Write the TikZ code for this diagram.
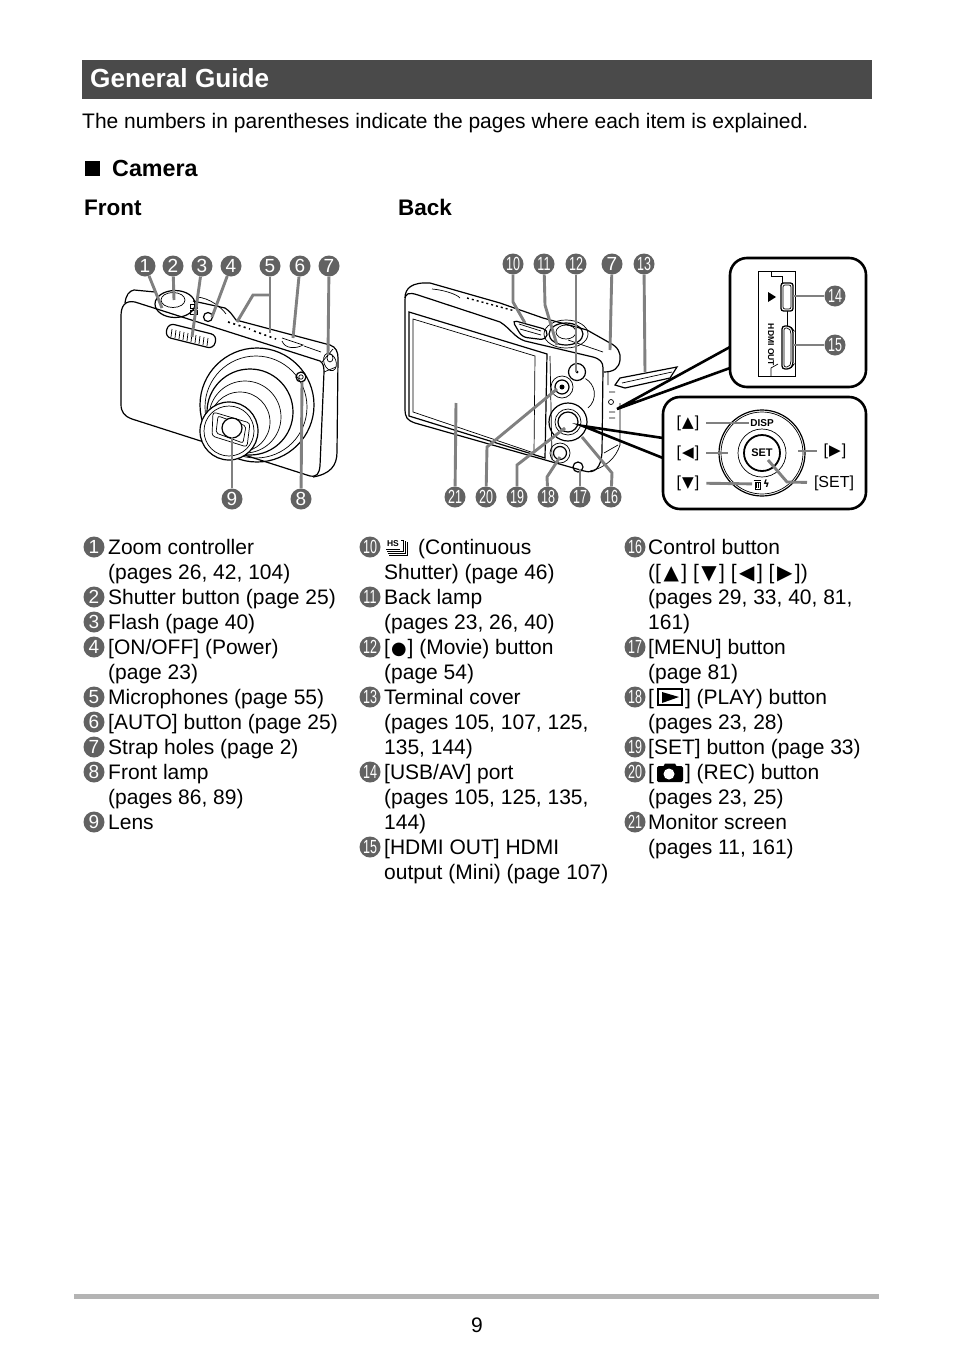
\documentclass[tikz,border=0pt]{standalone}
\usepackage{fontspec}
\setmainfont{Liberation Sans}
\newfontfamily\symfont{DejaVu Sans}
\usetikzlibrary{positioning}
\definecolor{bargray}{HTML}{4A4A4A}
\definecolor{numgray}{HTML}{626262}
\definecolor{leadgray}{HTML}{808080}
\definecolor{rulegray}{HTML}{B4B4B4}
\newcommand{\numtext}[1]{\ifnum#1>9 \scalebox{.66}[1]{#1}\else#1\fi}
\newcommand{\tri}[1]{\hspace{2.5pt}{\symfont\scalebox{.95}{#1}}\hspace{2.5pt}}
\newcommand{\keytri}[1]{\hspace{1pt}{\symfont\scalebox{.95}{#1}}\hspace{1pt}}
\tikzset{
  numbadge/.style={circle,fill=numgray,text=white,inner sep=0,minimum size=21pt,font=\fontsize{19}{19}\selectfont},
  leader/.style={leadgray,line width=2.9pt},
  itemtext/.style={anchor=north west,inner sep=0,align=left,font=\fontsize{21}{25}\selectfont},
  headtext/.style={anchor=base west,inner sep=0,font=\fontsize{22.5}{25}\selectfont\bfseries},
  cam/.style={line width=1.2pt,black},
  thin cam/.style={line width=.7pt,black},
  panel/.style={line width=2.6pt,black},
  keylabel/.style={inner sep=0,outer sep=7pt,font=\fontsize{16}{16}\selectfont},
}
\begin{document}
\begin{tikzpicture}[x=1pt,y=-1pt]
\path[fill=white,use as bounding box](0,0) rectangle (954,1357);
\fill[bargray](82,60) rectangle (872,99);
\node[headtext,text=white,font=\fontsize{26.2}{25}\selectfont\bfseries] (title) at (90,87){General Guide};
\node[itemtext] (intro) at (82,110.5){\strut The numbers in parentheses indicate the pages where each item is explained.};
\fill (85,161) rectangle (100,176);
\node[headtext,font=\fontsize{23.3}{25}\selectfont\bfseries] (camera) at (112,176){Camera};
\node[headtext] (front) at (84,215){Front};
\node[headtext] (back) at (398,215){Back};
\fill[rulegray](74,1294) rectangle (879,1298.5);
\node[itemtext] (folio) at (471,1315){\strut 9};

\foreach \n/\x/\y in {1/145/266,2/173/266,3/202/266,4/231/266,5/270/266,6/300/266,7/329/266,9/232/499,8/301/499,
  10/513/264,11/544/264,12/576/264,13/644/264,21/455/497,20/486/497,19/517/497,18/548/497,17/580/497,16/611/497}
  \node[numbadge] (n\n) at (\x,\y){\numtext{\n}};
\node[numbadge] (n7b) at (612,264){7};

\draw[cam](121,316) .. controls (121,306) and (125,300) .. (135,302) -- (320,361) .. controls (323,363) and (324,366) .. (324,372)
  -- (320,466) .. controls (319,474) and (317,477) .. (310,476) -- (132,419) .. controls (124,416) and (121,412) .. (121,404) -- cycle;
\draw[cam](125,303) .. controls (126,295) and (129,291) .. (134,290) -- (155,292) (193,301) -- (225,308) .. controls (230,311) and (233,316) .. (236,320) -- (330,345)
  .. controls (336,347) and (338,352) .. (338,358) -- (337,452) .. controls (337,466) and (330,474) .. (313,477);
\draw[thin cam](324,372) -- (336,367) (322,362) -- (333,349);
\draw[cam](175,304) ellipse[x radius=20pt,y radius=13.5pt];
\draw[thin cam,fill=white](173,300) ellipse[x radius=12pt,y radius=7.5pt];
\draw[thin cam](190,310) rectangle (197,314) (190,304) rectangle (197,308);
\draw[cam](208,317) circle[radius=4.5pt];
\draw[thin cam](197,297) .. controls (210,298) and (222,308) .. (226,314);
\draw[cam,rounded corners=6pt,rotate around={-14:(191,336)}](166,329) rectangle (216,343);
\foreach \x in {172,176,...,208}\draw[thin cam](\x,{329+(\x-172)*.25})--++(-1,8);
\draw[line width=1.6pt,dash pattern=on 2pt off 3.5pt](228,322)--(250,329) (254,331)--(276,339);
\draw[thin cam](282,341) .. controls (285,349) and (296,349) .. (303,345) -- (282,338);
\draw[thin cam](304,346)--(321,352);
\draw[thin cam,rotate around={20:(330,362)}](330,362) ellipse[x radius=6pt,y radius=9pt];
\draw[thin cam](330,358) ellipse[x radius=3pt,y radius=4pt];
\draw[cam](257,405) circle[radius=57pt];
\draw[thin cam](256,407) circle[radius=51pt];
\draw[cam](250,412) circle[radius=43pt];
\draw[thin cam](245,417) circle[radius=36pt];
\draw[thin cam](240,422) circle[radius=30pt];
\draw[cam,fill=white](229,431) circle[radius=29pt];
\draw[thin cam](229,431) circle[radius=25pt];
\draw[thin cam,rounded corners=3pt](213,412)--(250,423)--(247,447)--(212,436)--cycle;
\draw[thin cam,rounded corners=2pt](218,416)--(246,426)--(243,443)--(216,433)--cycle;
\draw[cam,fill=white](232,428) circle[radius=10pt];
\draw[cam](301,377) circle[radius=5pt];
\draw[thin cam](301,377) circle[radius=2.2pt];

\draw[cam](405,300) .. controls (405,293) and (409,292) .. (418,295) -- (500,322) .. controls (510,328) and (515,338) .. (525,341) -- (593,357)
  .. controls (600,359) and (603,362) .. (603,368) -- (602,452) .. controls (601,468) and (595,474) .. (584,471) -- (415,423)
  .. controls (407,420) and (405,418) .. (405,408) -- cycle;
\draw[cam](405,298) .. controls (405,288) and (412,282) .. (430,283) -- (500,303) -- (543,318) -- (587,330) -- (610,343) .. controls (618,347) and (621,353) .. (620,360)
  .. controls (619,368) and (614,372) .. (604,372);
\draw[thin cam](620,445) .. controls (616,458) and (605,468) .. (590,471);
\draw[thin cam](608,372)--(608,385) (620,403)--(620,445) (604,453)--(618,445);
\draw[thin cam](432,289) .. controls (445,290) and (458,295) .. (460,298);
\draw[line width=1.4pt,dash pattern=on 2pt off 3pt](467,298)--(515,311);
\draw[cam](409,312)--(547,354)--(545,458)--(409,416)--cycle;
\draw[thin cam](413,319)--(535,356)--(534,453)--(413,412)--cycle;
\draw[thin cam](550,356)--(552,460);
\draw[thin cam](568,340)--(603,352);
\draw[thin cam](566,334) ellipse[x radius=22pt,y radius=14pt];
\draw[cam](566,334) ellipse[x radius=17pt,y radius=11pt];
\draw[thin cam](566,332) ellipse[x radius=10pt,y radius=7pt];
\draw[cam,rounded corners=5pt](512,320)--(548,330)--(546,340)--(522,337)--cycle;
\draw[thin cam](519,324)--(541,331) (520,329)--(541,335);
\draw[cam](577,372) circle[radius=8.5pt];
\fill(577,372) circle[radius=1.5pt];
\draw[thin cam](562,387) circle[radius=11pt];
\draw[cam](562,387) circle[radius=7pt];
\fill(562,387) circle[radius=2.5pt];
\draw[cam](568,422) circle[radius=19pt];
\draw[thin cam](568,422) circle[radius=13pt];
\draw[cam](568,422) circle[radius=10pt];
\draw[thin cam](588,408) arc(-50:60:18pt);
\draw[thin cam](560,453) circle[radius=10pt];
\draw[cam](560,453) circle[radius=6.5pt];
\draw[cam](578,467) circle[radius=5pt];
\draw[cam,fill=white](615,385)--(620,378)--(677,367)--(670,378)--(625,388)--cycle;
\draw[thin cam](622,383)--(672,372);
\draw[thin cam](611,402) circle[radius=2.5pt] (609,412)--(615,412) (609,418)--(615,418) (609,392)--(615,392);

\coordinate (usbtipa) at (730,347);
\coordinate (usbtipb) at (730,368);
\coordinate (usbend) at (617,409);
\coordinate (ctrltipa) at (663,438);
\coordinate (ctrltipb) at (663,458);
\coordinate (ctrlend) at (583,426);
\draw[panel](usbtipa)--(usbend)--(usbtipb);
\draw[panel](ctrltipa)--(ctrlend)--(ctrltipb);
\draw[panel,fill=white,rounded corners=17pt](730,258) rectangle (866,387);
\draw[panel,fill=white,rounded corners=17pt](663,397) rectangle (866,509);
\node[numbadge] (n14) at (835,296){\numtext{14}};
\node[numbadge] (n15) at (835,345){\numtext{15}};

\draw[thin cam](758,271)--(795,271)--(795,376)--(758,376)--cycle;
\draw[thin cam](771,271)--(771,276)--(782,276)--(782,283) (787,311)--(787,326);
\draw[line width=1.3pt,rounded corners=2.5pt,fill=white](781,283) rectangle (793,311);
\draw[thin cam,rounded corners=2pt](783,285) rectangle (791,309);
\draw[line width=1.3pt,rounded corners=3pt,fill=white](782,326)--(790,326)--(793,330)--(793,365)--(790,369)--(782,369)--cycle;
\draw[thin cam,rounded corners=2pt](784,328)--(789,328)--(791,332)--(791,363)--(789,367)--(784,367)--cycle;
\fill(768,292)--(776,297)--(768,302)--cycle;
\node[inner sep=0,rotate=-90,font=\fontsize{8.5}{9}\selectfont\bfseries] (hdmilabel) at (771,345){HDMI OUT};
\draw[thin cam](771,376)--(771,368)--(778,364);

\node[keylabel] (up) at (688,423){[\keytri{▲}]};
\node[keylabel] (left) at (688,453){[\keytri{◀}]};
\node[keylabel] (down) at (688,483){[\keytri{▼}]};
\node[keylabel] (right) at (835,451){[\keytri{▶}]};
\node[keylabel] (setlabel) at (834,483){[SET]};
\draw[cam](762,453) circle[radius=43pt];
\draw[thin cam](762,453) circle[radius=41pt];
\draw[thin cam](762,453) circle[radius=24pt];
\draw[line width=1.8pt](762,453) circle[radius=18pt];
\node[fill=white,inner sep=1pt,font=\fontsize{10}{10}\selectfont\bfseries] (disp) at (762,423){DISP};
\node[inner sep=0,font=\fontsize{11}{11}\selectfont\bfseries] (setkey) at (762,453){SET};
\node[fill=white,inner sep=1pt,font=\fontsize{10}{10}\selectfont\bfseries,anchor=west] (trash) at (752,484){\hspace{10pt}\symfont ϟ};
\draw[line width=1pt](753.5,480.5)--(761,480.5);
\draw[thin cam](755,482) rectangle (760,489) (756.5,483)--(756.5,488) (758.5,483)--(758.5,488);

\coordinate (setturn) at (787,482);
\coordinate (settip) at (768,460);
\coordinate (lefttip) at (728,453);
\coordinate (righttip) at (798,451);
\draw[leader](up)--(disp);
\draw[leader](left)--(lefttip);
\draw[leader](down)--(trash);
\draw[leader](right)--(righttip);
\draw[leader](setlabel)--(setturn)--(settip);

\coordinate (a1) at (162,308);
\coordinate (a2) at (174,300);
\coordinate (a3) at (192,337);
\coordinate (a4) at (212,317);
\coordinate (a5) at (270,333);
\coordinate (b5) at (270,295);
\coordinate (c5) at (253,295);
\coordinate (d5) at (237,322);
\coordinate (a6) at (293,338);
\coordinate (a7) at (328,355);
\coordinate (a8) at (302,382);
\coordinate (a9) at (232,437);
\draw[leader](n1)--(a1);
\draw[leader](n2)--(a2);
\draw[leader](n3)--(a3);
\draw[leader](n4)--(a4);
\draw[leader](n5)--(a5);
\draw[leader](b5)--(c5)--(d5);
\draw[leader](n6)--(a6);
\draw[leader](n7)--(a7);
\draw[leader](n8)--(a8);
\draw[leader](n9)--(a9);

\coordinate (a10) at (513,302);
\coordinate (b10) at (525,323);
\coordinate (a11) at (545,305);
\coordinate (b11) at (557,345);
\coordinate (a12) at (576,372);
\coordinate (a7b) at (610,350);
\coordinate (a13) at (645,372);
\coordinate (a21) at (456,403);
\coordinate (a20) at (487,447);
\coordinate (b20) at (557,389);
\coordinate (a19) at (517,465);
\coordinate (b19) at (565,428);
\coordinate (a18) at (547,477);
\coordinate (b18) at (560,457);
\coordinate (a17) at (580,469);
\coordinate (a16) at (612,473);
\coordinate (b16) at (582,437);
\coordinate (a14) at (793,296);
\coordinate (a15) at (793,345);
\draw[leader](n10)--(a10)--(b10);
\draw[leader](n11)--(a11)--(b11);
\draw[leader](n12)--(a12);
\draw[leader](n7b)--(a7b);
\draw[leader](n13)--(a13);
\draw[leader](n21)--(a21);
\draw[leader](n20)--(a20)--(b20);
\draw[leader](n19)--(a19)--(b19);
\draw[leader](n18)--(a18)--(b18);
\draw[leader](n17)--(a17);
\draw[leader](n16)--(a16)--(b16);
\draw[leader](n14)--(a14);
\draw[leader](n15)--(a15);

\foreach \n/\y/\txt in {1/547/{Zoom controller\\(pages 26, 42, 104)},2/597/{Shutter button (page 25)},3/622/{Flash (page 40)},
  4/647/{[ON/OFF] (Power)\\(page 23)},5/697/{Microphones (page 55)},6/722/{[AUTO] button (page 25)},7/747/{Strap holes (page 2)},
  8/772/{Front lamp\\(pages 86, 89)},9/822/{Lens}}{
  \node[numbadge] (b\n) at (94,\y){\numtext{\n}};
  \node[itemtext] (t\n) at (108,\y-10.5){\strut\txt};
}
\foreach \n/\y/\txt in {10/547/{\hspace{34pt}(Continuous\\Shutter) (page 46)},11/597/{Back lamp\\(pages 23, 26, 40)},
  12/647/{[\hspace{1pt}{\symfont\scalebox{.85}{●}}\hspace{1pt}] (Movie) button\\(page 54)},13/697/{Terminal cover\\(pages 105, 107, 125,\\135, 144)},
  14/772/{[USB/AV] port\\(pages 105, 125, 135,\\144)},15/847/{[HDMI OUT] HDMI\\output (Mini) (page 107)}}{
  \node[numbadge] (b\n) at (370,\y){\numtext{\n}};
  \node[itemtext] (t\n) at (384,\y-10.5){\strut\txt};
}
\foreach \n/\y/\txt in {16/547/{Control button\\([\tri{▲}] [\tri{▼}] [\tri{◀}] [\tri{▶}])\\(pages 29, 33, 40, 81,\\161)},17/647/{[MENU] button\\(page 81)},
  18/697/{[\hspace{31pt}] (PLAY) button\\(pages 23, 28)},19/747/{[SET] button (page 33)},20/772/{[\hspace{31pt}] (REC) button\\(pages 23, 25)},
  21/822/{Monitor screen\\(pages 11, 161)}}{
  \node[numbadge] (b\n) at (635,\y){\numtext{\n}};
  \node[itemtext] (t\n) at (648,\y-10.5){\strut\txt};
}
\draw[line width=1.7pt](658,689) rectangle (682,705);
\fill(662,692)--(679,697)--(662,703)--cycle;
\fill[rounded corners=1.5pt](657,766) rectangle (683,782);
\fill(663,767)--(665,763.5)--(675,763.5)--(677,767)--cycle;
\fill[white](669,774) circle[radius=5.5pt];
\node[inner sep=0,font=\fontsize{8.5}{8.5}\selectfont\bfseries] (hsicon) at (393,544){HS};
\draw[thin cam](386,549)--(400,549) (401,540)--(403,540)--(403,551)--(387,551) (405,541)--(405,553)--(388,553) (407,542)--(407,555)--(389,555);
\end{tikzpicture}
\end{document}
